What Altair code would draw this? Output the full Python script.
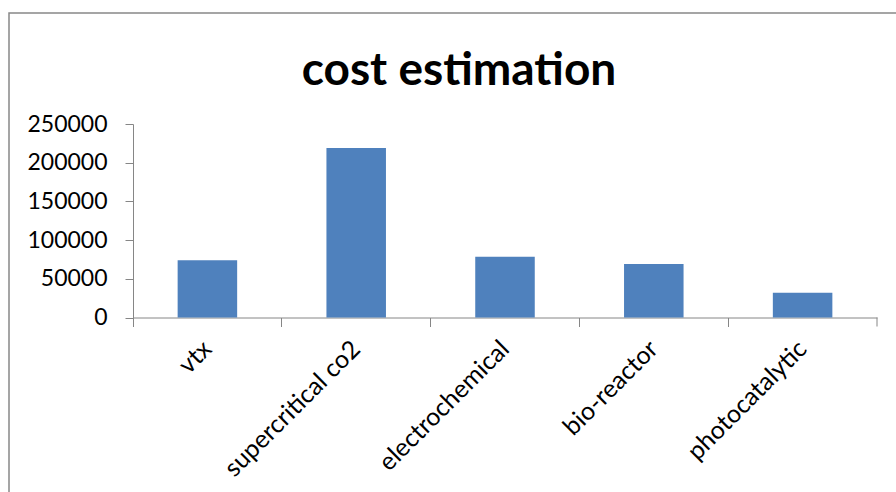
import altair as alt
import pandas as pd

categories = ["vtx", "supercritical co2", "electrochemical", "bio-reactor", "photocatalytic"]
costs = [74000, 219000, 78500, 69000, 32000]
y_ticks = [0, 50000, 100000, 150000, 200000, 250000]
chart_title = "cost estimation"

df = pd.DataFrame({"method": categories, "cost": costs})

AXIS_GRAY = "#868686"
FONT = "Lato"
band_scale = alt.Scale(paddingInner=0, paddingOuter=0)

bars = alt.Chart(df).mark_bar(color="#4F81BD", width=alt.RelativeBandSize(0.4)).encode(
    x=alt.X("method:N", sort=categories, title=None, scale=band_scale,
            axis=alt.Axis(orient="bottom", labelAngle=-45, labelAlign="right",
                          labelBaseline="middle", ticks=False, domain=False,
                          labelPadding=27, labelOverlap=False, labelLimit=400,
                          labelFont=FONT, labelFontSize=25, labelColor="#000000")),
    y=alt.Y("cost:Q", title=None,
            scale=alt.Scale(domain=[0, 250000], nice=False),
            axis=alt.Axis(values=y_ticks, format="d", grid=False, tickSize=8,
                          tickColor=AXIS_GRAY, domainColor=AXIS_GRAY, labelPadding=18,
                          labelOverlap=False, labelFont=FONT, labelFontSize=23,
                          labelColor="#000000")),
)

# category boundary ticks along the bottom axis
boundary_axis = alt.Chart(df).mark_point(opacity=0).encode(
    x=alt.X("method:N", sort=categories, title=None, scale=band_scale,
            axis=alt.Axis(orient="bottom", bandPosition=0, labels=False, tickSize=9,
                          tickColor=AXIS_GRAY, domainColor=AXIS_GRAY)),
)

# closing tick at the right end of the category axis
end_tick = alt.Chart(pd.DataFrame({"k": [0]})).mark_rule(color=AXIS_GRAY, strokeWidth=1).encode(
    x=alt.value(744), y=alt.value(193.5), y2=alt.value(202.5)
)

# outer chart frame
frame = alt.Chart(pd.DataFrame({"k": [0]})).mark_rect(
    fillOpacity=0, stroke="#888888", strokeWidth=1.5, clip=False
).encode(
    x=alt.value(-124), x2=alt.value(780), y=alt.value(-111), y2=alt.value(385)
)

# heading, centred on the outer frame
heading = alt.Chart(pd.DataFrame({"t": [chart_title]})).mark_text(
    font=FONT, fontSize=46, fontWeight="bold", color="#000000",
    align="center", baseline="alphabetic"
).encode(
    text="t:N", x=alt.value(326), y=alt.value(-39)
)

chart = alt.layer(frame, heading, bars, boundary_axis, end_tick).resolve_axis(
    x="independent"
).properties(
    width=744,
    height=193.5,
    padding={"left": 133, "top": 124, "right": 19, "bottom": 174.5},
    autosize=alt.AutoSizeParams(type="none"),
    background="white",
).configure_view(stroke=None)

chart.save("out.html", embed_options={"renderer": "svg", "actions": False})
